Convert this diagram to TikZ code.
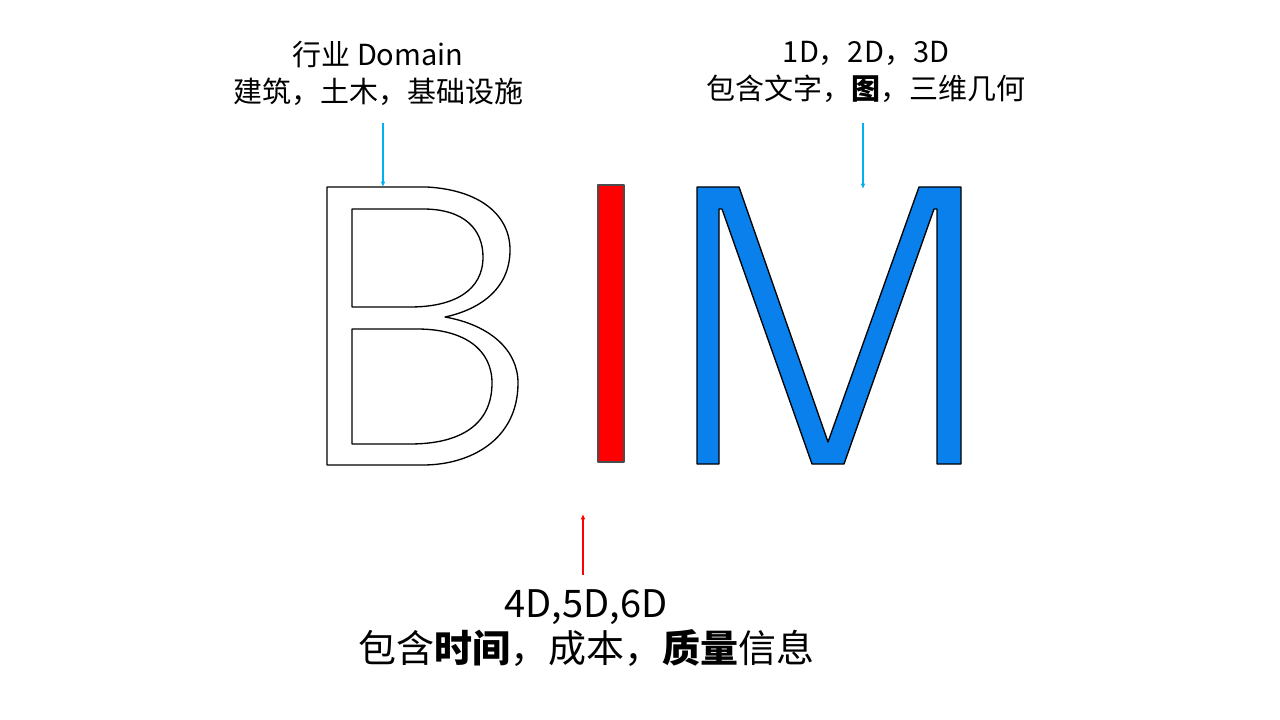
\documentclass[tikz,border=0pt]{standalone}
\usepackage{fontspec}
\newfontfamily\cjk{Noto Sans CJK SC}
\usetikzlibrary{arrows.meta}
\definecolor{mblue}{RGB}{10,128,236}
\definecolor{skyline}{RGB}{0,176,240}
\begin{document}
\begin{tikzpicture}[x=0.75pt,y=-0.75pt]
        \tikzstyle{note}=[align=center,inner sep=0pt,font=\cjk\fontsize{21.75}{27.75}\selectfont]
        \tikzstyle{bignote}=[note,font=\cjk\fontsize{28.5}{33.75}\selectfont]
        \tikzstyle{letter}=[draw=black,line width=1pt,line join=round]
        \tikzstyle{bluearrow}=[draw=skyline,line width=1.2pt,-{Latex[length=4pt,width=3.5pt]}]
        \tikzstyle{redarrow}=[draw=red,line width=1.2pt,-{Latex[length=4pt,width=3.5pt]}]
        \useasboundingbox (0,0) rectangle (1280,720);
        % texts
        \node [note] (domain) at (378,73) {行业 Domain\\建筑，土木，基础设施};
        \node [note] (dims) at (866,72) {1D，2D，3D\\包含文字，{\bfseries 图}，三维几何};
        \node [bignote] (info) at (586,628) {4D,5D,6D\\包含{\bfseries 时间}，成本，{\bfseries 质量}信息};
        % B
        \draw [letter] (327,465) -- (327,187) -- (427,187)
          .. controls (480,190) and (510,215) .. (510,250)
          .. controls (510,290) and (478,310) .. (445,317)
          .. controls (490,325) and (518,350) .. (518,383)
          .. controls (518,440) and (470,465) .. (423,465) -- cycle;
        \draw [letter] (352,209) -- (423,209)
          .. controls (465,209) and (483,230) .. (483,257)
          .. controls (483,290) and (455,307) .. (410,307) -- (352,307) -- cycle;
        \draw [letter] (352,329) -- (417,329)
          .. controls (465,329) and (492,350) .. (492,383)
          .. controls (492,425) and (460,444) .. (410,444) -- (352,444) -- cycle;
        % I
        \draw [letter,fill=red,draw=black!70] (598,185) rectangle (624,462);
        % M
        \draw [letter,fill=mblue] (697,464) -- (697,187) -- (739,187) -- (828,442)
          -- (919,187) -- (961,187) -- (961,464) -- (937,464) -- (937,209)
          -- (934,209) -- (844,464) -- (812,464) -- (722,209) -- (719,209)
          -- (719,464) -- cycle;
        % pointers
        \coordinate (bfrom) at (383,123);
        \coordinate (btop) at (383,187);
        \coordinate (mfrom) at (863,123);
        \coordinate (mtop) at (863,189);
        \coordinate (ifrom) at (583,575);
        \coordinate (iend) at (583,514);
        \draw [bluearrow] (bfrom) -- (btop);
        \draw [bluearrow] (mfrom) -- (mtop);
        \draw [redarrow] (ifrom) -- (iend);
\end{tikzpicture}
\end{document}
